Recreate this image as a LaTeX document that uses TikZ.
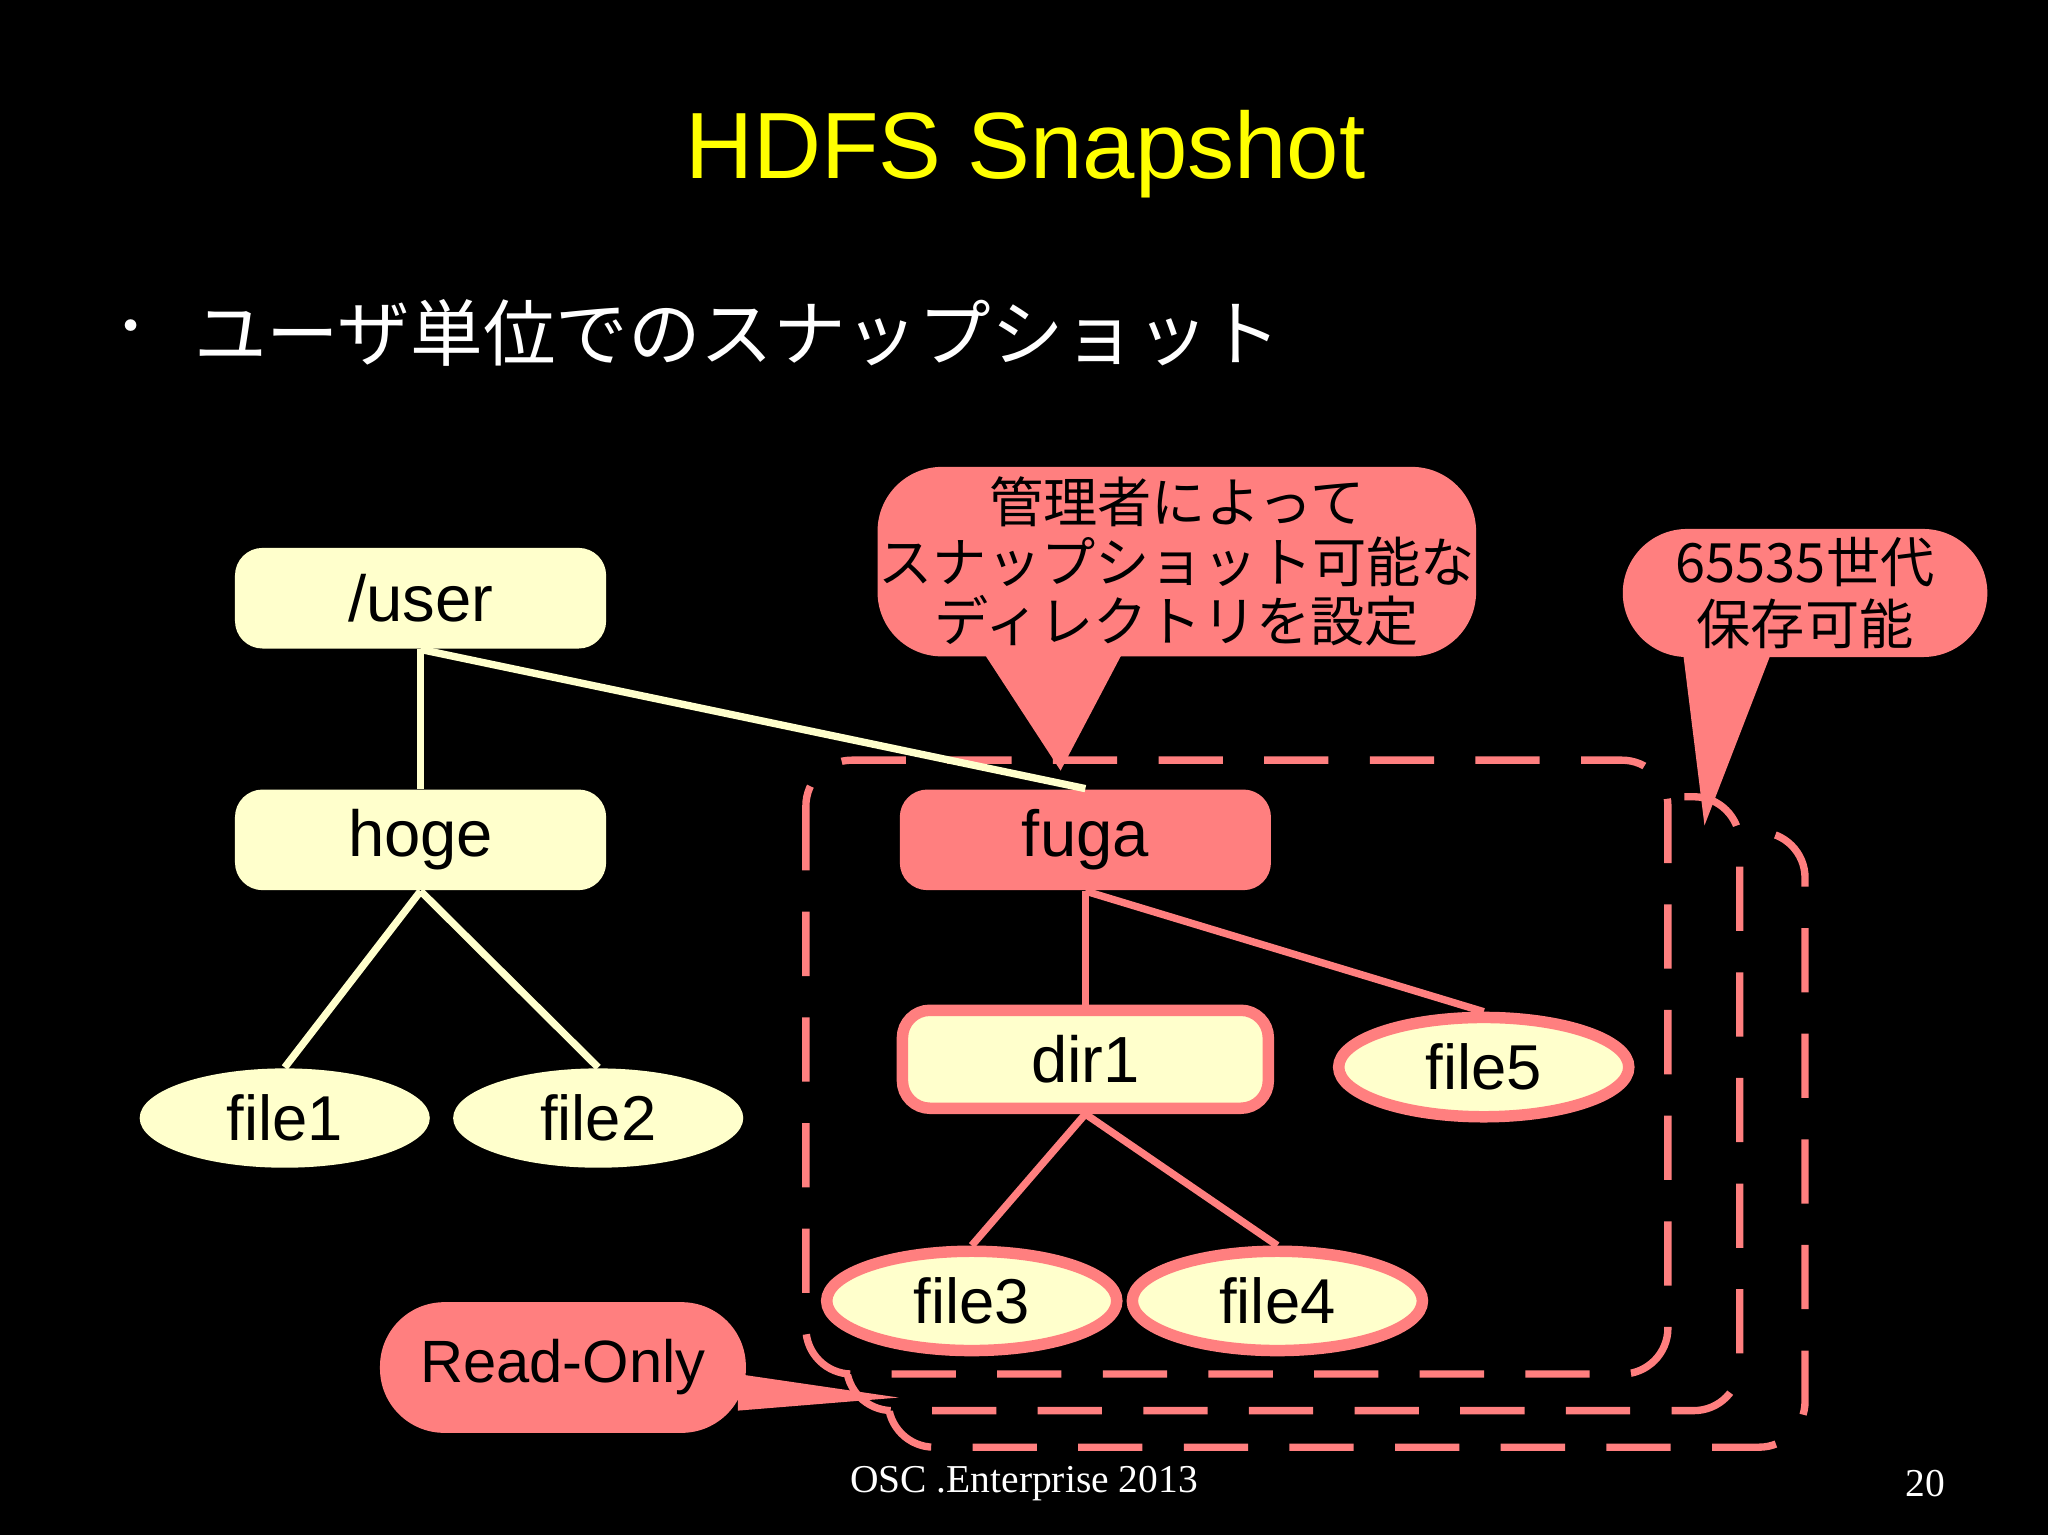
\documentclass[tikz,border=0pt]{standalone}
\usepackage{fontspec}
\usetikzlibrary{shapes.geometric}
\setmainfont{Liberation Sans}
\newfontfamily\cjk{Noto Sans CJK JP}
\newfontfamily\serifx{Liberation Serif}
\definecolor{creamc}{HTML}{FFFFCC}
\definecolor{salm}{HTML}{FF7F7F}
\definecolor{ttl}{HTML}{FFFF00}
\begin{document}
\begin{tikzpicture}[x=0.01cm,y=-0.01cm,
  box/.style={rounded corners=6pt,minimum width=2.84cm,minimum height=0.77cm,font=\fontsize{14.2}{17}\selectfont,inner sep=0pt},
  ell/.style={ellipse,minimum width=2.22cm,minimum height=0.76cm,font=\fontsize{13.8}{16}\selectfont,inner sep=0pt,fill=creamc},
  cl/.style={draw=creamc,line width=1.6pt},
  sl/.style={draw=salm,line width=1.6pt},
  dframe/.style={draw=salm,line width=1.6pt,dash pattern=on 14pt off 9pt,rounded corners=10pt,fill=black},
  call/.style={fill=salm,rounded corners=14pt}]
\fill[black] (0,0) rectangle (1568,1175);
\useasboundingbox (0,0) rectangle (1568,1175);
\node[text=ttl,font=\fontsize{20.5}{24}\selectfont] (title) at (785,118) {HDFS Snapshot};
\node[text=white,font=\cjk\fontsize{12}{14}\selectfont] (bul) at (100,255) {・};
\node[text=white,anchor=west,font=\cjk\fontsize{15.8}{18}\selectfont,inner sep=0pt] (sub) at (148,255) {ユーザ単位でのスナップショット};
% dashed frames
\draw[dframe] (680,637) rectangle (1382,1108);
\draw[dframe] (648,610) rectangle (1332,1080);
\draw[dframe] (617,582) rectangle (1277,1052);
% nodes
\node[box,fill=creamc] (user) at (322,458) {/user};
\node[box,fill=creamc] (hoge) at (322,643) {hoge};
\node[box,fill=salm] (fuga) at (831,643) {fuga};
\node[box,fill=creamc,draw=salm,line width=2.5pt,minimum width=2.80cm,minimum height=0.75cm] (dir1) at (831,811) {dir1};
\node[ell] (file1) at (218,856) {file1};
\node[ell] (file2) at (458,856) {file2};
\node[ell,draw=salm,line width=2.5pt] (file5) at (1136,817) {file5};
\node[ell,draw=salm,line width=2.5pt] (file3) at (744,996) {file3};
\node[ell,draw=salm,line width=2.5pt] (file4) at (978,996) {file4};
% edges
\draw[cl] (user.south) -- (hoge.north);
\draw[cl] (user.south) -- (fuga.north);
\draw[cl] (hoge.south) -- (file1.north);
\draw[cl] (hoge.south) -- (file2.north);
\draw[sl] (fuga.south) -- (dir1.north);
\draw[sl] (fuga.south) -- (file5.north);
\draw[sl] (dir1.south) -- (file3.north);
\draw[sl] (dir1.south) -- (file4.north);
% callouts
\coordinate (p1) at (812,590);
\coordinate (p2) at (1305,632);
\coordinate (p3) at (688,1070);
\fill[salm] (750,495) -- (p1) -- (862,495) -- cycle;
\node[call,minimum width=4.58cm,minimum height=1.45cm,font=\cjk\fontsize{11.8}{13}\selectfont,align=center,text=black,inner sep=0pt] (c1) at (901,430) {管理者によって\\スナップショット可能な\\ディレクトリを設定};
\fill[salm] (1288,495) -- (p2) -- (1358,495) -- cycle;
\node[call,minimum width=2.79cm,minimum height=0.98cm,font=\cjk\fontsize{11.8}{13.5}\selectfont,align=center,text=black,inner sep=0pt] (c2) at (1382,454) {65535世代\\保存可能};
\fill[salm] (565,1052) -- (p3) -- (565,1080) -- cycle;
\node[call,minimum width=2.80cm,minimum height=1.0cm,font=\fontsize{13}{16}\selectfont,text=black,inner sep=0pt] (c3) at (431,1047) {Read-Only};
% footer
\node[text=white,font=\serifx\fontsize{8.6}{11}\selectfont] (foot) at (784,1136) {OSC .Enterprise 2013};
\node[text=white,font=\serifx\fontsize{8.6}{11}\selectfont] (pg) at (1474,1136) {20};
\end{tikzpicture}
\end{document}
